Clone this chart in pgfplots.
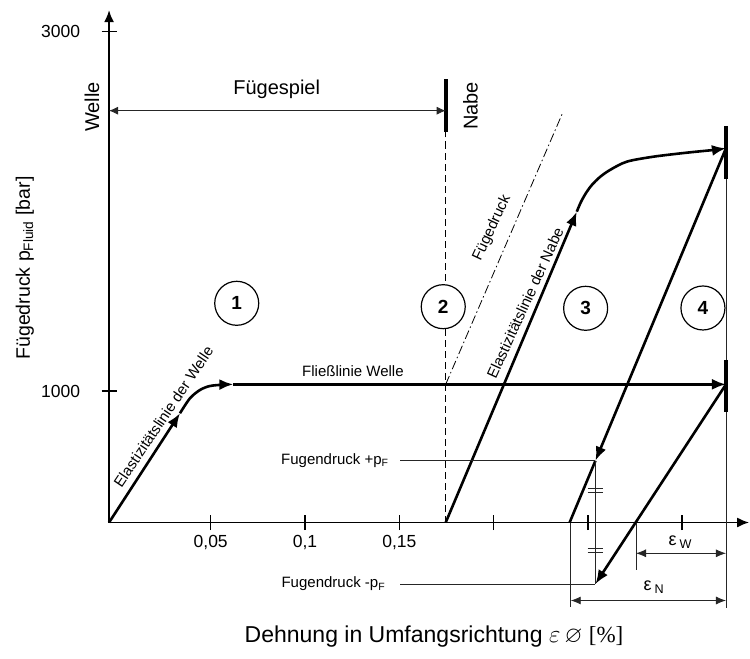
\documentclass[border=0pt]{standalone}
\usepackage{pgfplots}
\pgfplotsset{compat=1.18}
\usepackage{fontspec}
\usepackage{amssymb}
\setmainfont{Liberation Sans}
\newfontfamily\serif{Liberation Serif}
\usetikzlibrary{arrows.meta}
\begin{document}
\begin{tikzpicture}
\begin{axis}[
  x=1886pt, y=0.179662pt,
  xmin=-0.0039, xmax=0.3355, ymin=268, ymax=3120,
  axis lines=left,
  axis line style={line width=1.8pt},
  x axis line style={-{Latex[length=12pt,width=10pt]}},
  y axis line style={-{Latex[length=12pt,width=10pt]}},
  xtick={0.05,0.1,0.15,0.2,0.25,0.3},
  xticklabels={{0,05},{0,1},{0,15},{},{},{}},
  ytick={1000,3000},
  yticklabels={1000,3000},
  tick align=center,
  major tick length=15pt,
  tick style={line width=1.5pt,black},
  tick label style={font=\fontsize{17.5}{20}\selectfont},
  yticklabel style={xshift=-18pt},
  xticklabel style={yshift=-2pt},
  /pgf/number format/assume math mode=true,
  clip=false,
  xlabel={Dehnung in Umfangsrichtung $\varepsilon\,\varnothing$ {\serif [\%]}},
  ylabel={Fügedruck p\textsubscript{Fluid} [bar]},
  xlabel style={at={(axis description cs:0.5077,-0.2234)}, anchor=center, font=\fontsize{23}{26}\selectfont},
  ylabel style={at={(axis description cs:-0.1314,0.4967)}, anchor=center, font=\fontsize{19.5}{24}\selectfont},
  thickline/.style={line width=2.6pt, black},
  thinline/.style={line width=0.8pt, black!85},
  arr/.style={-{Latex[length=14pt,width=11pt]}},
]
% Welle: elastic line, transition, flow line
\addplot[thickline, arr] coordinates {(-0.0039,268) (0.0337,875.9)};
\addplot[thickline, arr, smooth] coordinates {(0.0337,875.9) (0.0390,959.4) (0.0443,1005.6) (0.0496,1027.8) (0.0567,1035.1) (0.0620,1037)};
\addplot[thickline, arr] coordinates {(0.0620,1037) (0.3232,1037)};
% Nabe: elastic line and transition
\addplot[thickline, arr] coordinates {(0.1746,268) (0.2441,1998.0)};
\addplot[thickline, arr, smooth] coordinates {(0.2441,1998.0) (0.2463,2052.0) (0.2490,2102.1) (0.2521,2146.6) (0.2564,2191.1) (0.2617,2230.1) (0.2706,2276.3) (0.2847,2304.1) (0.3024,2326.4) (0.3165,2341.4) (0.3232,2350.9)};
% unloading lines
\addplot[thickline, arr] coordinates {(0.3232,2350.9) (0.2540,612)};
\addplot[thickline] coordinates {(0.2540,612) (0.2403,268)};
\addplot[thickline, arr] coordinates {(0.3232,1037) (0.2540,-74.2)};
% Fuegedruck dash-dot line
\addplot[line width=0.8pt, black, dash pattern=on 9pt off 3pt on 1.5pt off 3pt] coordinates {(0.1746,1037) (0.2368,2552.9)};
% dashed Nabe line and bars
\addplot[line width=0.9pt, black, dash pattern=on 7pt off 4pt] coordinates {(0.1746,268) (0.1746,2443.3)};
\addplot[line width=4pt, black] coordinates {(0.1746,2443.3) (0.1746,2734.9)};
\addplot[thinline] coordinates {(0.3232,2475) (0.3232,-207.8)};
\addplot[line width=4pt, black] coordinates {(0.3232,2475) (0.3232,2178.3)};
\addplot[line width=4pt, black] coordinates {(0.3232,1172.5) (0.3232,883.1)};
% Fuegespiel arrow
\addplot[thinline, {Latex[length=9pt,width=8pt]}-{Latex[length=9pt,width=8pt]}] coordinates {(-0.0039,2560.2) (0.1746,2560.2)};
% Fugendruck leaders
\addplot[thinline] coordinates {(0.1504,612) (0.2540,612)};
\addplot[thinline] coordinates {(0.1504,-74.2) (0.2540,-74.2)};
\addplot[thinline] coordinates {(0.2540,612) (0.2540,-74.2)};
\addplot[thinline] coordinates {(0.2498,460) (0.2582,460)};
\addplot[thinline] coordinates {(0.2498,438) (0.2582,438)};
\addplot[thinline] coordinates {(0.2498,126) (0.2582,126)};
\addplot[thinline] coordinates {(0.2498,104) (0.2582,104)};
% epsilon dimension lines
\addplot[thinline] coordinates {(0.2409,268) (0.2409,-202.3)};
\addplot[thinline] coordinates {(0.2755,268) (0.2755,3.7)};
\addplot[thinline, {Latex[length=10pt,width=8pt]}-{Latex[length=10pt,width=8pt]}] coordinates {(0.2755,96.6) (0.3232,96.6)};
\addplot[thinline, {Latex[length=10pt,width=8pt]}-{Latex[length=10pt,width=8pt]}] coordinates {(0.2409,-166.1) (0.3232,-166.1)};
% texts
\node[font=\fontsize{20}{24}\selectfont] at (axis cs:0.0850,2679.3) {Fügespiel};
\node[rotate=90, font=\fontsize{20}{24}\selectfont] at (axis cs:-0.0129,2580.7) {Welle};
\node[rotate=90, font=\fontsize{20}{24}\selectfont] at (axis cs:0.1878,2586.3) {Nabe};
\node[font=\fontsize{15}{18}\selectfont] at (axis cs:0.1254,1111.3) {Fließlinie Welle};
\node[rotate=56, font=\fontsize{15}{18}\selectfont] at (axis cs:0.0249,856.9) {Elastizitätslinie der Welle};
\node[rotate=65, font=\fontsize{15}{18}\selectfont] at (axis cs:0.1992,1907.3) {Fügedruck};
\node[rotate=65.5, font=\fontsize{15}{18}\selectfont] at (axis cs:0.2167,1489.8) {Elastizitätslinie der Nabe};
\node[anchor=east, font=\fontsize{15}{18}\selectfont] at (axis cs:0.1462,612) {Fugendruck +p\textsubscript{F}};
\node[anchor=east, font=\fontsize{15}{18}\selectfont] at (axis cs:0.1444,-74.2) {Fugendruck -p\textsubscript{F}};
\node[font=\fontsize{18}{20}\selectfont] at (axis cs:0.2990,159.6) {ε\,\textsubscript{W}};
\node[font=\fontsize{18}{20}\selectfont] at (axis cs:0.2850,-90.9) {ε\,\textsubscript{N}};
\node[circle, draw, line width=1.2pt, minimum size=44pt, inner sep=0pt, font=\bfseries\fontsize{19}{20}\selectfont] at (axis cs:0.0638,1488.1) {1};
\node[circle, draw, line width=1.2pt, minimum size=44pt, inner sep=0pt, font=\bfseries\fontsize{19}{20}\selectfont, fill=white] at (axis cs:0.1733,1469.2) {2};
\node[circle, draw, line width=1.2pt, minimum size=44pt, inner sep=0pt, font=\bfseries\fontsize{19}{20}\selectfont] at (axis cs:0.2488,1460.3) {3};
\node[circle, draw, line width=1.2pt, minimum size=44pt, inner sep=0pt, font=\bfseries\fontsize{19}{20}\selectfont] at (axis cs:0.3110,1462) {4};
\coordinate (bbl) at (axis cs:-0.06172,-491.7);
\coordinate (btr) at (axis cs:0.33595,3176.3);
\end{axis}
\pgfresetboundingbox
\path[use as bounding box] (bbl) rectangle (btr);
\end{tikzpicture}
\end{document}
